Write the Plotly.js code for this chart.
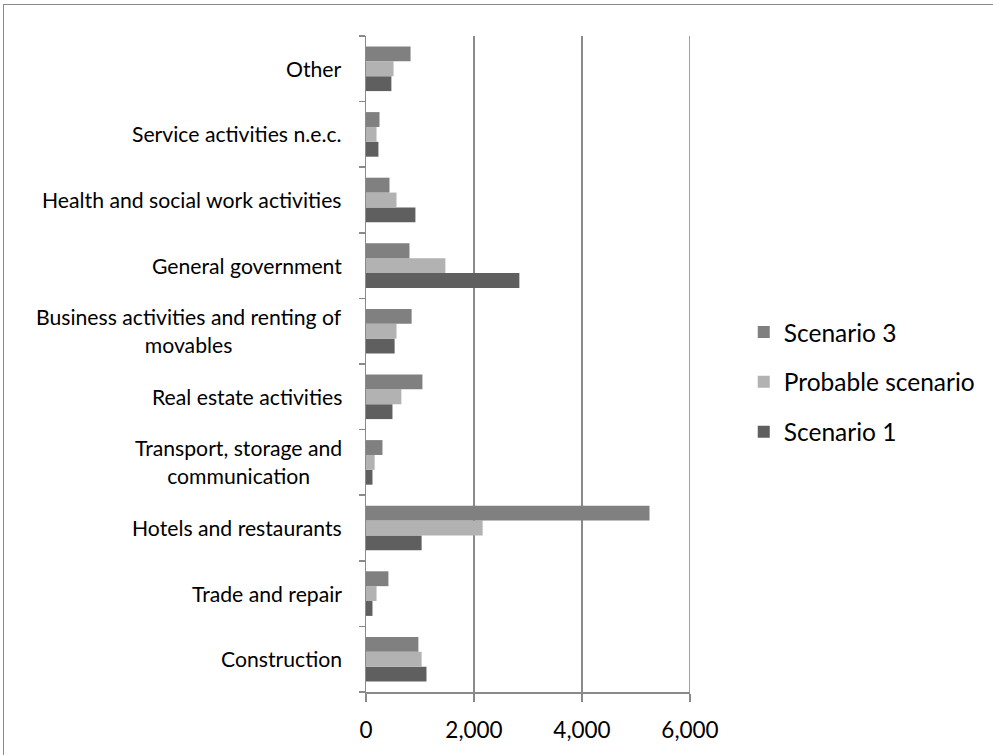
<!DOCTYPE html>
<html>
<head>
<meta charset="utf-8">
<script src="https://cdn.plot.ly/plotly-3.0.1.min.js"></script>
<style>
  html, body { margin: 0; padding: 0; background: #fff; overflow: hidden; }
  #chart { width: 993px; height: 755px; position: absolute; left: 0; top: 0; }
  #frame { position: absolute; left: 3px; top: 4px; width: 1200px; height: 1200px;
           border-top: 1px solid #8a8a8a; border-left: 1px solid #8a8a8a; pointer-events: none; z-index: 10; }
</style>
</head>
<body>
<div id="chart"></div>
<div id="frame"></div>
<script>
// Categories, bottom to top
const categories = [
  "Construction",
  "Trade and repair",
  "Hotels and restaurants",
  "Transport, storage and<br>communication",
  "Real estate activities",
  "Business activities and renting of<br>movables",
  "General government",
  "Health and social work activities",
  "Service activities n.e.c.",
  "Other"
];
const scenario1 = [1120, 120, 1030, 120, 490, 530, 2840, 915, 230, 470];
const probable  = [1030, 195, 2160, 160, 655, 565, 1470, 565, 195, 510];
const scenario3 = [970, 415, 5250, 305, 1045, 845, 805, 435, 250, 825];
const seriesNames = ["Scenario 1", "Probable scenario", "Scenario 3"];
const xTicks = [0, 2000, 4000, 6000];
const xTickText = ["0", "2,000", "4,000", "6,000"];

const FONT = "Lato, 'Open Sans', sans-serif";
const colors = ["#5f5f5f", "#b2b2b2", "#808080"];
const seriesData = [scenario1, probable, scenario3];

const traces = seriesData.map((vals, i) => ({
  type: "bar",
  orientation: "h",
  name: seriesNames[i],
  y: categories,
  x: vals,
  marker: { color: colors[i], line: { width: 0 } },
  legendgroup: "g" + i,
  legendrank: 10 - i,
  hoverinfo: "x+name"
}));

const annotations = categories.map(c => ({
  xref: "paper", yref: "y",
  x: 0, y: c,
  xanchor: "right", yanchor: "middle",
  xshift: -22,
  align: "center",
  text: c,
  showarrow: false,
  font: { family: FONT, size: 21.2, color: "#000" }
}));

// gridline at the right end of the x range (Plotly hides grid lines on the plot edge)
const shapes = [{
  type: "line", xref: "x", yref: "paper",
  x0: xTicks[xTicks.length - 1], x1: xTicks[xTicks.length - 1], y0: 0, y1: 1,
  line: { color: "#8a8a8a", width: 1.6 },
  layer: "below"
}];

const layout = {
  width: 993, height: 755,
  margin: { l: 366, r: 303, t: 36, b: 63 },
  paper_bgcolor: "#fff",
  plot_bgcolor: "#fff",
  barmode: "group",
  bargap: 0.32,
  bargroupgap: 0,
  font: { family: FONT, size: 21, color: "#000" },
  xaxis: {
    range: [0, 6000],
    tickvals: xTicks,
    ticktext: xTickText,
    showgrid: true,
    gridcolor: "#8a8a8a",
    gridwidth: 1.6,
    zeroline: false,
    showline: true,
    linecolor: "#8a8a8a",
    linewidth: 1.5,
    ticks: "outside",
    ticklen: 8,
    tickwidth: 1.5,
    tickcolor: "#8a8a8a",
    ticklabelstandoff: 9,
    tickfont: { family: FONT, size: 22.5, color: "#000" },
    fixedrange: true
  },
  yaxis: {
    type: "category",
    categoryorder: "array",
    categoryarray: categories,
    showticklabels: false,
    ticks: "outside",
    tickson: "boundaries",
    ticklen: 6,
    tickwidth: 1.5,
    tickcolor: "#8a8a8a",
    showline: true,
    linecolor: "#8a8a8a",
    linewidth: 1.5,
    showgrid: false,
    zeroline: false,
    fixedrange: true
  },
  legend: {
    xref: "container", yref: "container",
    x: 0.749, y: 0.494,
    xanchor: "left", yanchor: "middle",
    traceorder: "grouped",
    tracegroupgap: 15,
    font: { family: FONT, size: 24.5, color: "#000" },
    bgcolor: "rgba(0,0,0,0)"
  },
  shapes: shapes,
  annotations: annotations,
  showlegend: true
};

Plotly.newPlot("chart", traces, layout, { displayModeBar: false, staticPlot: true });
</script>
</body>
</html>
